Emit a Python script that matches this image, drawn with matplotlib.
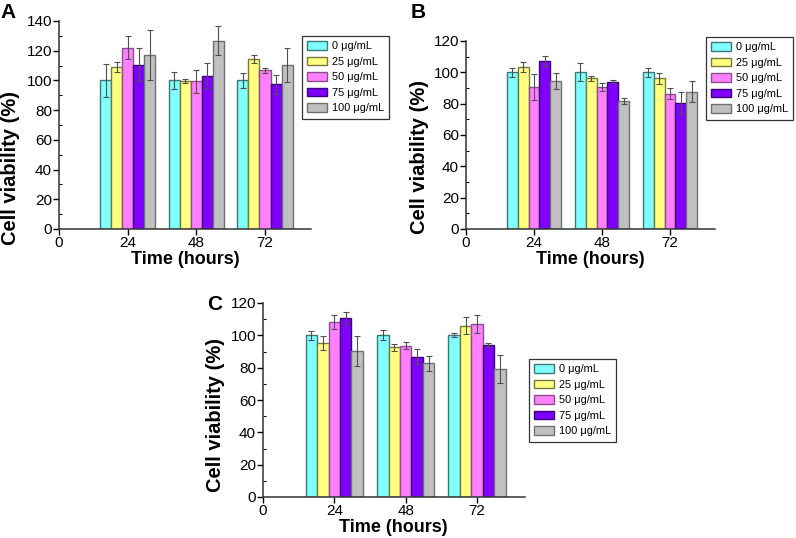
"""Cell viability bar panels (A, B, C) with error bars."""

import matplotlib

matplotlib.use("Agg")

import matplotlib.pyplot as plt
import numpy as np
from matplotlib.ticker import AutoMinorLocator

plt.rcParams["font.family"] = ["Liberation Sans", "DejaVu Sans"]

TIMES = [24, 48, 72]
DOSES = ["0 μg/mL", "25 μg/mL", "50 μg/mL", "75 μg/mL", "100 μg/mL"]
FILL_COLORS = ["#80FFFF", "#FFFF80", "#FF80FF", "#8000FF", "#C0C0C0"]
EDGE_COLORS = ["#3C7878", "#78783C", "#8A508A", "#3C0078", "#707070"]

# rows = dose, columns = time point (24, 48, 72 h)
A_MEAN = [
    [100, 100, 100],
    [109.3, 99.8, 114.6],
    [122, 99.3, 106.8],
    [110.5, 103.2, 97.4],
    [117.2, 126.8, 110.2],
]
A_ERR = [
    [11.2, 5.5, 4.9],
    [3.4, 1.3, 2.8],
    [7.6, 8, 1.8],
    [11, 8.2, 6.3],
    [16.7, 9.5, 11.5],
]
B_MEAN = [
    [100, 100, 100],
    [103.4, 96.2, 96.2],
    [90.6, 90.8, 86.2],
    [107, 93.9, 80.4],
    [94.4, 81.7, 87.5],
]
B_ERR = [
    [2.9, 5.7, 2.9],
    [3.4, 1.6, 3.5],
    [8.1, 2.4, 3.5],
    [3.2, 0.9, 6.9],
    [5.1, 2.1, 6.7],
]
C_MEAN = [
    [100, 100, 100],
    [95.2, 92.7, 106],
    [108.4, 93.5, 107],
    [110.7, 86.9, 94],
    [90.2, 82.8, 79.3],
]
C_ERR = [
    [2.8, 3.1, 1.3],
    [4.1, 2.1, 5.4],
    [4.4, 2.1, 5.4],
    [3.7, 4.6, 1],
    [9.3, 4.6, 8.7],
]

BAR_WIDTH = 3.85
X_MAX = 88
W, H = 796, 538


def draw_panel(fig, rect, means, errs, y_max, letter, letter_xy, legend_xy, ylabel_xy):
    ax = fig.add_axes(rect)
    x = np.array(TIMES, dtype=float)
    for i, (label, fill, edge) in enumerate(zip(DOSES, FILL_COLORS, EDGE_COLORS)):
        offset = (i - 2) * BAR_WIDTH
        ax.bar(
            x + offset,
            means[i],
            width=BAR_WIDTH,
            color=fill,
            edgecolor=edge,
            linewidth=1.0,
            label=label,
            zorder=2,
        )
        ax.errorbar(
            x + offset,
            means[i],
            yerr=errs[i],
            fmt="none",
            ecolor="#505050",
            elinewidth=0.8,
            capsize=2,
            capthick=0.8,
            zorder=3,
        )

    ax.set_xlim(0, X_MAX)
    ax.set_ylim(0, y_max)
    ax.set_xticks([0] + TIMES)
    ax.set_yticks(np.arange(0, y_max + 1, 20))
    ax.yaxis.set_minor_locator(AutoMinorLocator(2))
    ax.tick_params(axis="both", which="major", direction="out", length=4, width=1,
                   labelsize=11, pad=1)
    ax.tick_params(axis="y", which="minor", direction="in", length=2.5, width=0.8)
    for side in ("top", "right"):
        ax.spines[side].set_visible(False)
    for side in ("left", "bottom"):
        ax.spines[side].set_linewidth(1.1)
        ax.spines[side].set_color("#333333")

    ax.set_xlabel("Time (hours)", fontsize=13, fontweight="bold", labelpad=1)
    ax.set_ylabel("Cell viability (%)", fontsize=14.5, fontweight="bold")
    # ylabel right edge / centre given in figure pixels -> axes fraction
    left_px = rect[0] * W
    bottom_px = (1 - rect[1]) * H
    ax.yaxis.set_label_coords((ylabel_xy[0] - left_px) / (rect[2] * W),
                              (bottom_px - ylabel_xy[1]) / (rect[3] * H))

    fig.text(letter_xy[0], letter_xy[1], letter, fontsize=15, fontweight="bold",
             ha="left", va="top")

    handles, labels = ax.get_legend_handles_labels()
    leg = fig.legend(
        handles,
        labels,
        loc="upper left",
        bbox_to_anchor=legend_xy,
        bbox_transform=fig.transFigure,
        fontsize=7.9,
        frameon=True,
        fancybox=False,
        edgecolor="black",
        handlelength=1.8,
        handleheight=0.8,
        labelspacing=0.5,
        borderpad=0.5,
        borderaxespad=0,
        handletextpad=0.4,
    )
    leg.get_frame().set_linewidth(0.9)
    return ax


def main() -> None:
    fig = plt.figure(figsize=(W / 100, H / 100), dpi=100)

    def rect(left, right_at_72, top, bottom):
        # axes box in pixels -> figure fraction, width scaled from the 72 h tick
        px_per_h = (right_at_72 - left) / 72
        width = px_per_h * X_MAX
        return [left / W, 1 - bottom / H, width / W, (bottom - top) / H]

    draw_panel(fig, rect(59, 265, 21, 229), A_MEAN, A_ERR, 140, "A",
               (0.0, 0.995), (302 / W, 1 - 36 / H), (20, 168))
    draw_panel(fig, rect(466, 670, 41, 229), B_MEAN, B_ERR, 120, "B",
               (411 / W, 0.995), (706 / W, 1 - 37 / H), (429, 157))
    draw_panel(fig, rect(263, 477, 303, 497), C_MEAN, C_ERR, 120, "C",
               (207 / W, 1 - 295 / H), (529 / W, 1 - 359 / H), (225, 415))

    fig.savefig("out.png", dpi=100)
    plt.close(fig)


if __name__ == "__main__":
    main()
